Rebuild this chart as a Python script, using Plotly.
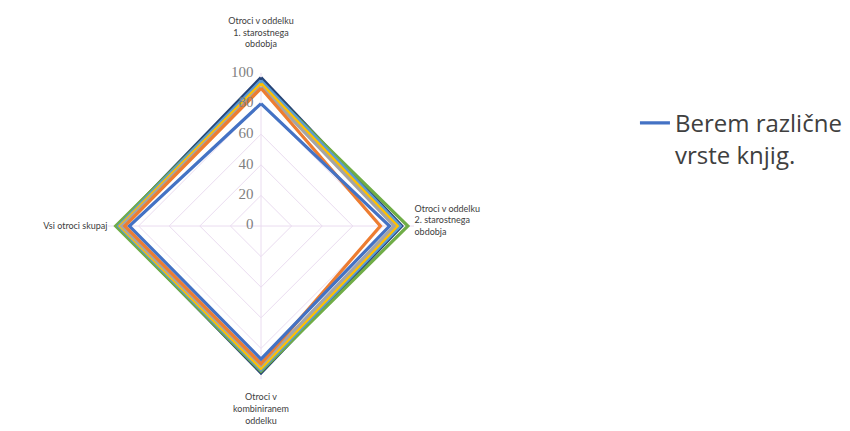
import plotly.graph_objects as go

categories = [
    "Otroci v oddelku<br>1. starostnega<br>obdobja<br> <br> ",
    "Otroci v oddelku<br>2. starostnega<br>obdobja<br> ",
    " <br>Otroci v<br>kombiniranem<br>oddelku",
    "Vsi otroci skupaj",
]
series_names = [
    "Berem različne<br>vrste knjig.",
    "Serija 2", "Serija 3", "Serija 4", "Serija 5", "Serija 6", "Serija 7",
]
s1 = [80, 84, 87, 86]
s2 = [90, 78, 90, 89]
s3 = [91, 87, 91, 91]
s4 = [93, 89, 93, 92]
s5 = [95, 91, 94, 93]
s6 = [94, 96, 95, 95]
s7 = [97, 92, 96, 94]
all_series = [s1, s2, s3, s4, s5, s6, s7]
colors = ["#4472C4", "#ED7D31", "#A5A5A5", "#FFC000", "#5B9BD5", "#70AD47", "#264478"]
radial_ticks = [0, 20, 40, 60, 80, 100]
radial_tick_text = [str(v) + "\u00a0\u00a0" for v in radial_ticks]

fig = go.Figure()
order = [6, 5, 4, 3, 2, 1, 0]
for i in order:
    vals = all_series[i]
    fig.add_trace(go.Scatterpolar(
        r=vals + [vals[0]],
        theta=categories + [categories[0]],
        mode="lines",
        line=dict(color=colors[i], width=3.2),
        name=series_names[i],
        showlegend=(i == 0),
    ))

# radial tick labels drawn horizontally along the top axis
# (a zero radius is nudged by a hair so plotly keeps the centre label)
fig.add_trace(go.Scatterpolar(
    r=[v if v > 0 else 0.2 for v in radial_ticks],
    theta=[categories[0]] * len(radial_ticks),
    mode="text",
    text=radial_tick_text,
    textposition="middle left",
    textfont=dict(size=15, color="#7F7F7F", family="Liberation Serif, serif"),
    cliponaxis=False,
    showlegend=False,
    hoverinfo="skip",
))

cx, cy, R = 261, 226, 153
W, H = 850, 431
fig.update_layout(
    width=W, height=H,
    margin=dict(l=0, r=0, t=0, b=0),
    paper_bgcolor="white",
    plot_bgcolor="white",
    font=dict(family="Lato, Liberation Sans, sans-serif", color="#595959"),
    polar=dict(
        domain=dict(x=[(cx - R) / W, (cx + R) / W],
                    y=[(H - cy - R) / H, (H - cy + R) / H]),
        bgcolor="white",
        gridshape="linear",
        angularaxis=dict(
            rotation=90, direction="clockwise",
            tickfont=dict(size=9, color="#404040"),
            showline=False, linecolor="#E6D8EC",
            gridcolor="#EADCF0", gridwidth=1,
            ticks="",
        ),
        radialaxis=dict(
            range=[0, 100], tickvals=radial_ticks,
            angle=90, showticklabels=False,
            showline=False, ticks="",
            gridcolor="#EADCF0", gridwidth=1,
        ),
    ),
    legend=dict(
        x=0.747, y=0.766, xanchor="left", yanchor="top",
        valign="top",
        font=dict(size=24, color="#404040", family="Open Sans, sans-serif"),
        bgcolor="rgba(0,0,0,0)",
    ),
)

fig.write_html("out.html")
